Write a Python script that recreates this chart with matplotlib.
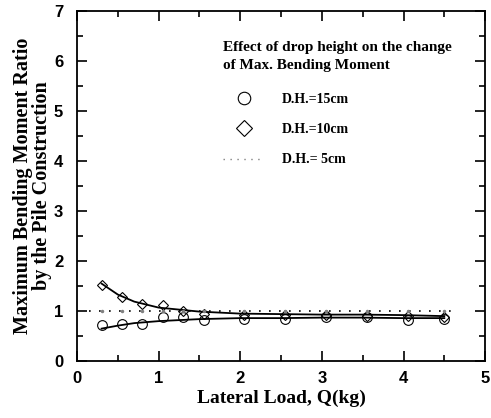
import matplotlib
matplotlib.use("Agg")
import matplotlib.pyplot as plt
from matplotlib.lines import Line2D
from matplotlib.ticker import MultipleLocator

# measured points
load = [0.3, 0.55, 0.8, 1.05, 1.3, 1.55, 2.05, 2.55, 3.05, 3.55, 4.05, 4.5]
dh15 = [0.72, 0.75, 0.75, 0.89, 0.89, 0.82, 0.85, 0.85, 0.89, 0.89, 0.82, 0.85]
dh10 = [1.52, 1.29, 1.15, 1.12, 1.0, 0.95, 0.93, 0.92, 0.92, 0.91, 0.9, 0.88]
dh5 = [1.0, 1.0, 1.0, 1.0, 1.0, 1.0, 1.0, 1.0, 1.0, 1.0, 1.0, 1.0]

# fitted curves
fit_x = [0.3, 0.5, 0.7, 1.0, 1.5, 2.0, 2.5, 3.0, 3.5, 4.0, 4.5]
fit15 = [0.65, 0.71, 0.76, 0.80, 0.84, 0.86, 0.86, 0.87, 0.87, 0.86, 0.86]
fit10 = [1.55, 1.33, 1.19, 1.07, 0.99, 0.95, 0.94, 0.93, 0.93, 0.92, 0.9]
fit5_x = [0.15, 4.6]
fit5 = [1.0, 1.0]

plt.rcParams['font.family'] = ['Liberation Serif']

fig = plt.figure(figsize=(4.91, 4.18), dpi=100)
ax = fig.add_axes([0.157, 0.136, 0.831, 0.838])

ax.plot(fit_x, fit15, color='black', lw=1.3)
ax.plot(fit_x, fit10, color='black', lw=1.3)
ax.plot(fit5_x, fit5, color='black', lw=1.2, ls=(0, (1, 5)))

ax.plot(load, dh15, ls='none', marker='o', ms=7, mfc='none', mec='black', mew=0.8)
ax.plot(load, dh10, ls='none', marker='D', ms=5.5, mfc='none', mec='black', mew=0.8)
ax.plot(load, dh5, ls='none', marker='.', ms=3, color='grey')

ax.set_xlim(0, 5)
ax.set_ylim(0, 7)
ax.xaxis.set_major_locator(MultipleLocator(1))
ax.xaxis.set_minor_locator(MultipleLocator(0.5))
ax.yaxis.set_major_locator(MultipleLocator(1))
ax.yaxis.set_minor_locator(MultipleLocator(0.5))
ax.tick_params(which='both', direction='in', top=True, right=True, width=1.2)
ax.tick_params(which='major', length=7)
ax.tick_params(which='minor', length=4)
ax.tick_params(axis='y', pad=10)
ax.tick_params(axis='x', pad=7)
for s in ax.spines.values():
    s.set_linewidth(1.3)
for lab in ax.get_xticklabels() + ax.get_yticklabels():
    lab.set_family('Liberation Sans')
    lab.set_fontweight('bold')
    lab.set_fontsize(12)

ax.set_xlabel('Lateral Load, Q(kg)', fontsize=14, fontweight='bold', labelpad=3)
ax.set_ylabel('Maximum Bending Moment Ratio\nby the Pile Construction', fontsize=14.5,
              fontweight='bold', linespacing=0.95)
ax.yaxis.set_label_coords(-0.062, 0.5)

handles = [
    Line2D([], [], ls='none', marker='o', ms=9, mfc='none', mec='black', mew=0.8),
    Line2D([], [], ls='none', marker='D', ms=8, mfc='none', mec='black', mew=0.8),
    Line2D([], [], color='grey', lw=1, ls=(0, (1, 4))),
]
leg = ax.legend(handles, ['D.H.=15cm', 'D.H.=10cm', 'D.H.= 5cm'],
                title='Effect of drop height on the change\nof Max. Bending Moment',
                loc='upper left', bbox_to_anchor=(0.345, 0.93), frameon=False,
                prop={'family': 'Liberation Serif', 'weight': 'bold', 'size': 10},
                title_fontproperties={'family': 'Liberation Serif', 'weight': 'bold', 'size': 11},
                labelspacing=1.25, handlelength=2.9, handletextpad=1.3, borderaxespad=0)
leg._legend_box.align = 'left'
leg._legend_box.sep = 15
leg.get_title().set_linespacing(1.5)

fig.savefig('out.png', dpi=100)
